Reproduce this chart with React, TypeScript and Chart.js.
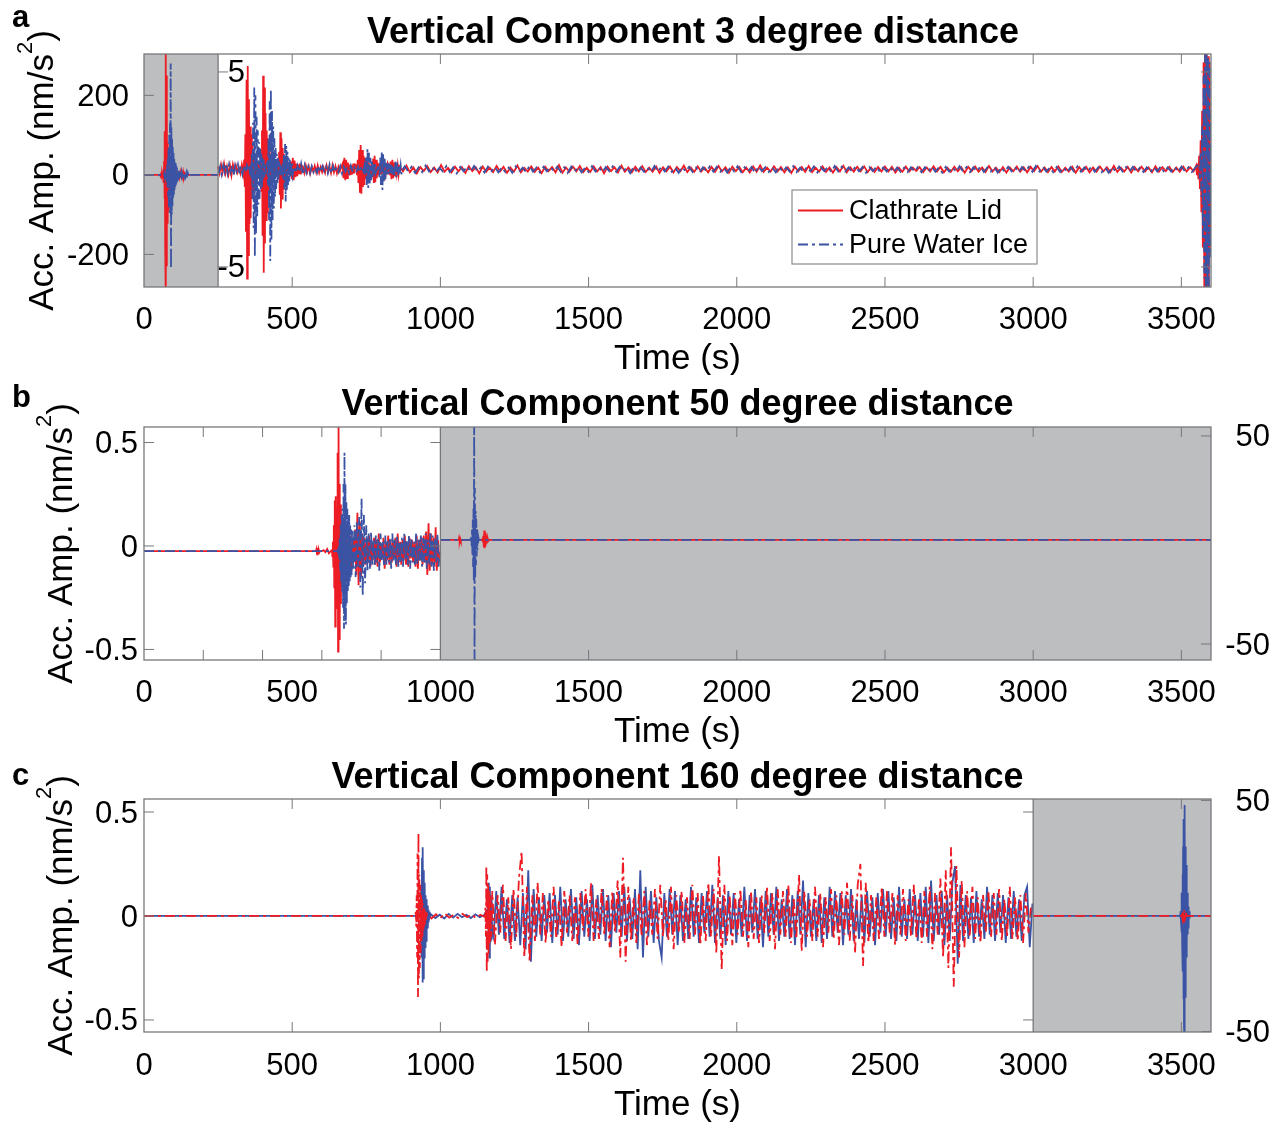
import React, { useEffect, useRef } from "react";
import { Chart, registerables } from "chart.js";
Chart.register(...registerables);

type Seg = { t0: number; dt: number; v: number[] };

// ---------------- text / ticks ----------------
const seriesNames = ["Clathrate Lid", "Pure Water Ice"];
const panelTitles = [
  "Vertical Component 3 degree distance",
  "Vertical Component 50 degree distance",
  "Vertical Component 160 degree distance",
];
const panelLetters = ["a", "b", "c"];
const xTitle = "Time (s)";
const xTickValues = [0, 500, 1000, 1500, 2000, 2500, 3000, 3500];
const aLeftTicks = [-200, 0, 200];
const aInnerTicks = [-5, 5];
const bLeftTicks = [-0.5, 0, 0.5];
const bRightTicks = [-50, 50];
const cLeftTicks = [-0.5, 0, 0.5];
const cRightTicks = [-50, 50];
const aMinorX = [500, 1000, 1500, 2000, 2500, 3000, 3500];
const bMinorXWhite = [200, 400, 600, 800];
const bMinorXGray = [1500, 2000, 2500, 3000, 3500];
const cMinorXWhite = [500, 1000, 1500, 2000, 2500];
const cMinorXGray = [3500];

// ---------------- panel a data (3 degrees) ----------------
// left axis (0-250 s, nm/s^2)
const aRedGray: Seg[] = [
  { t0: 0, dt: 54, v: [0, 0] },
  { t0: 56, dt: 1.2, v: [2,-4,6,-8,5,-3,4,-6,12,-20,35,-60,110,-180,320,-310,250,-230,140,-120,80,-90,60,-55,45,-40,30,-35,25,-20,18,-15,12,-14,10,-8,9,-7,6,-5,6,-4,3,-4,3,-2,2,-2,1,0] },
  { t0: 117, dt: 2.5, v: [4,-6,5,-8,6,-4,7,-5,3,-2,1,0] },
  { t0: 250, dt: 1, v: [0] },
];
const aBlueGray: Seg[] = [
  { t0: 0, dt: 64, v: [0, 0] },
  { t0: 66, dt: 1.2, v: [1,-2,3,-4,5,-6,8,-10,14,-18,25,-30,40,-55,70,-85,100,-95,130,-90,280,-235,120,-100,90,-80,70,-60,55,-50,45,-40,35,-30,30,-25,22,-20,18,-16,14,-12,12,-10,9,-8,7,-6,5,-4,4,-3,2,-2,1,0] },
  { t0: 133, dt: 2.5, v: [3,-5,6,-4,5,-7,4,-3,2,-1,0] },
  { t0: 250, dt: 1, v: [0] },
];
// inner axis (250-3600 s)
const aRedTail = [
  .15,-.1,.2,-.15,.1,-.2,.12,-.08,.18,-.14,
  .1,-.16,.22,-.12,.08,-.15,.14,-.1,.12,-.18,
  .16,-.09,.11,-.2,.15,-.12,.09,-.14,.18,-.1,
  .13,-.17,.1,-.12,.2,-.15,.08,-.11,.16,-.13,
  .1,-.19,.14,-.09,.12,-.15,.22,-.17,.1,-.12,
  .15,-.1,.18,-.14,.09,-.13,.16,-.11,.12,-.2,
  .14,-.09,.11,-.16,.19,-.12,.1,-.15,.13,-.1,
  .17,-.13,.09,-.12,.15,-.18,.11,-.1,.14,-.16,
  .12,-.09,.2,-.14,.1,-.13,.16,-.11,.09,-.15,
  .13,-.12,.18,-.1,.11,-.17,.14,-.09,.12,-.14,
  .1,-.16,.15,-.12,.21,-.13,.09,-.11,.16,-.1,
  .12,-.15,.1,-.18,.14,-.09,.13,-.12,.17,-.14,
  .09,-.11,.15,-.13,.1,-.16,.12,-.1,.19,-.15,
  .11,-.12,.14,-.09,.16,-.14,.1,-.13,.12,-.11,
  .15,-.1,.13,-.16,.09,-.12,.14,-.11,.1,-.08,
  .12,-.14,.1,-.11,.16,-.1,.13,-.15,.09,-.12,
  .14,-.1,.11,-.17,.13,-.09,.15,-.12,.1,-.14,
  .18,-.11,.09,-.13,.12,-.16,.1,-.1,.15,-.12,
  .11,-.15,.13,-.09,.17,-.12,.1,-.14,.12,-.1,
  .16,-.13,.09,-.11,.14,-.17,.12,-.1,.13,-.15,
  .1,-.12,.15,-.1,.11,-.14,.18,-.13,.09,-.11,
  .13,-.16,.12,-.1,.14,-.11,.1,-.15,.16,-.12,
  .11,-.09,.14,-.13,.1,-.12,.15,-.11,.12,-.1,
];
const aBlueTail = [
  -.12,.16,-.1,.14,-.18,.11,-.13,.2,-.1,.12,
  -.15,.09,-.11,.17,-.14,.1,-.2,.13,-.09,.15,
  -.12,.18,-.1,.11,-.16,.14,-.09,.12,-.15,.1,
  -.13,.1,-.17,.15,-.11,.09,-.14,.19,-.12,.1,
  -.16,.13,-.1,.12,-.09,.15,-.13,.11,-.18,.14,
  -.1,.12,-.15,.09,-.13,.17,-.11,.1,-.14,.12,
  -.09,.16,-.12,.14,-.1,.11,-.19,.13,-.15,.1,
  -.12,.09,-.14,.18,-.11,.13,-.1,.15,-.12,.09,
  -.17,.12,-.1,.14,-.13,.1,-.15,.11,-.09,.16,
  -.11,.14,-.12,.09,-.16,.13,-.1,.17,-.14,.11,
  -.1,.12,-.18,.15,-.09,.11,-.13,.1,-.15,.14,
  -.12,.1,-.11,.16,-.14,.09,-.13,.12,-.1,.15,
  -.16,.11,-.09,.13,-.12,.18,-.1,.14,-.11,.1,
  -.13,.15,-.1,.12,-.17,.11,-.09,.14,-.12,.1,
  -.11,.13,-.15,.1,-.12,.09,-.14,.11,-.1,.12,
  -.14,.11,-.1,.15,-.12,.09,-.16,.13,-.11,.1,
  -.12,.17,-.1,.12,-.14,.11,-.09,.15,-.13,.1,
  -.11,.13,-.16,.1,-.12,.14,-.1,.11,-.15,.12,
  -.09,.14,-.12,.18,-.1,.13,-.11,.09,-.14,.12,
  -.13,.1,-.15,.12,-.11,.16,-.12,.1,-.09,.14,
  -.12,.11,-.14,.1,-.17,.12,-.1,.15,-.11,.13,
  -.1,.14,-.12,.09,-.13,.11,-.15,.12,-.1,.16,
  -.14,.1,-.11,.13,-.12,.15,-.1,.11,-.13,.1,
];
const aRedWhite: Seg[] = [
  { t0: 250, dt: 5, v: [.15,-.2,.25,-.15,.3,-.2,.15,-.25,.2,-.3,.25,-.1,.2,-.15,.1,-.2,.25,-.2] },
  { t0: 338, dt: 2, v: [.5,-.9,1.8,-3.2,4.6,-5.6,5.3,-4.4,3.6,-2.8,2.2,-2.5,1.8,-1.5,1.2,-1.3,.9,-.8,.7,-.6,.5,-.6,.4,-.5,.4,-.3,.35,-.3] },
  { t0: 394, dt: 2, v: [.6,-1.1,2,-3.4,4.8,-5.3,4.2,-3.8,2.9,-2.6,2,-2.2,1.6,-1.4,1.1,-1.2,.8,-.7,.6,-.5,.4,-.45,.35,-.3,.3,-.25,.3,-.2,.25] },
  { t0: 452, dt: 2, v: [.3,-.5,.9,-1.3,1.9,-2,1.6,-1.5,1.1,-1,.8,-.9,.6,-.5,.4,-.45,.3,-.3] },
  { t0: 490, dt: 3, v: [.3,-.25,.4,-.5,.6,-.55,.45,-.4,.3,-.35,.25,-.2,.3,-.25,.2] },
  { t0: 536, dt: 5, v: [.15,-.18,.2,-.12,.16,-.2,.12,-.1,.18,-.14,.2,-.16,.12,-.14,.1,-.17,.2,-.12,.14,-.18,.22,-.14,.16,-.2,.13,-.1,.15] },
  { t0: 670, dt: 3, v: [.3,-.45,.6,-.55,.5,-.45,.35,-.3,.25,-.3,.2,-.25,.3,-.2,.25] },
  { t0: 716, dt: 2.5, v: [.2,-.3,.5,-.7,1,-1.2,1.25,-1.25,1,-.9,.7,-.8,.6,-.5,.4,-.45,.35,-.3,.25,-.3,.2] },
  { t0: 768, dt: 2.5, v: [.25,-.4,.55,-.7,.7,-.65,.5,-.45,.35,-.3,.3,-.25,.2,-.25,.3,-.2,.25,-.3,.2,-.15,.25,-.2,.3] },
  { t0: 826, dt: 3, v: [.2,-.3,.4,-.5,.5,-.45,.35,-.3,.25,-.2,.2,-.25] },
  { t0: 862, dt: 11.7, v: aRedTail },
  { t0: 3550, dt: 2.5, v: [.2,-.3,.3,-.5,.7,-1,1.5,-2.2,3,-4,5.5,-6.5,6.2,-6.5,6,-6.5,5.8,-6.3,5.5,-4] },
];
const aBlueWhite: Seg[] = [
  { t0: 252, dt: 5, v: [-.2,.15,-.25,.2,-.15,.3,-.2,.25,-.15,.2,-.3,.2,-.1,.25,-.2,.15,-.25,.2,-.15,.2,-.1] },
  { t0: 356, dt: 2, v: [.2,-.3,.3,-.5,.9,-1.5,2.4,-3,4.2,-4.5,3.8,-3.3,2.7,-2.4,2,-1.8,1.4,-1.5,1.1,-1,.8,-.9,.6,-.5,.5,-.4,.35,-.3] },
  { t0: 416, dt: 2, v: [.4,-.8,1.6,-2.6,3.5,-4.7,4.1,-3.6,3,-2.6,2.2,-2,1.6,-1.4,1.1,-1,.8,-.7,.6,-.5,.4,-.35,.3,-.3,.25,-.3] },
  { t0: 468, dt: 2, v: [.3,-.5,.8,-1,1.3,-1.65,1.2,-1.1,.9,-.8,.6,-.7,.5,-.4,.35,-.3,.3,-.25] },
  { t0: 506, dt: 6, v: [.15,-.18,.2,-.14,.3,-.28,.22,-.18,.15,-.2,.17,-.14,.1,-.16,.2,-.14,.17,-.1,.14,-.2,.25,-.22,.18,-.14,.1,-.14,.17,-.2,.14,-.1,.14,-.17,.2,-.14,.1,-.17,.14,-.14,.17,-.1] },
  { t0: 744, dt: 2.5, v: [.2,-.35,.6,-.8,1.05,-.95,.85,-.8,.6,-.55,.4,-.45,.3,-.25,.3,-.2] },
  { t0: 792, dt: 2.5, v: [.25,-.4,.6,-.8,.9,-1.05,.8,-.7,.55,-.5,.4,-.35,.3,-.25,.3,-.2,.25,-.3,.2,-.25] },
  { t0: 842, dt: 3, v: [.2,-.3,.4,-.4,.35,-.3,.25,-.2,.2,-.25] },
  { t0: 868, dt: 11.7, v: aBlueTail },
  { t0: 3560, dt: 2.5, v: [.3,-.5,.9,-1.4,2.2,-3.5,4.8,-5.6,5.9,-6.5,6,-6.5,5.8,-6.3,5.5,-4.5,3] },
];

// ---------------- panel b data (50 degrees) ----------------
const bRedCoda = [
  .02,-.1,.05,-.12,.04,-.08,.08,-.14,
  .16,-.19,.12,-.15,.06,-.1,.04,-.09,
  .03,-.08,.05,-.1,.02,-.07,.04,-.09,
  .03,-.1,.06,-.08,.01,-.06,.04,-.11,
  .02,-.07,.05,-.09,.03,-.08,.02,-.06,
  .04,-.1,.06,-.08,.02,-.09,.03,-.07,
  .05,-.09,.02,-.1,.04,-.06,.03,-.08,
  .02,-.1,.05,-.11,.03,-.07,.04,-.09,
  .05,-.08,.07,-.14,.11,-.12,.06,-.09,
  .04,-.1,.09,-.12,.03,-.06,-.03,
];
const bBlueCoda = [
  .08,-.12,.1,-.15,.12,-.1,.14,-.2,
  .23,-.24,.15,-.18,.1,-.12,.06,-.11,
  .07,-.09,.03,-.1,.05,-.08,.04,-.12,
  .06,-.07,.02,-.1,.05,-.09,.03,-.08,
  .04,-.11,.06,-.07,.03,-.09,.05,-.1,
  .02,-.08,.04,-.1,.06,-.07,.03,-.09,
  .05,-.11,.04,-.08,.02,-.1,.06,-.09,
  .03,-.07,.05,-.1,.04,-.08,.06,-.11,
  .03,-.09,.07,-.1,.05,-.12,.04,-.08,
  .06,-.1,-.03,
];
const bRedWhite: Seg[] = [
  { t0: 0, dt: 580, v: [-.025, -.025] },
  { t0: 582, dt: 2, v: [-.015,-.04,-.01,-.035,-.02,-.03,-.025] },
  { t0: 600, dt: 6, v: [-.025,-.02,-.03,-.015,-.035,-.025] },
  { t0: 634, dt: 1.6, v: [-.02,-.05,.02,-.1,.1,-.2,.22,-.39,.24,-.3,.18,-.25,.45,-.51,.62,-.45,.3,-.35,.2,-.28,.15,-.2,.12,-.18,.1,-.15,.08,-.14,.06,-.12,.05,-.1] },
  { t0: 688, dt: 4, v: bRedCoda },
];
const bBlueWhite: Seg[] = [
  { t0: 0, dt: 650, v: [-.025, -.025] },
  { t0: 654, dt: 1.6, v: [-.02,-.04,0,-.06,.04,-.12,.1,-.18,.15,-.22,.18,-.3,.3,-.4,.45,-.35,.3,-.38,.22,-.28,.18,-.22,.14,-.2,.15,-.18,.1,-.16,.08,-.14] },
  { t0: 702, dt: 4, v: bBlueCoda },
];
const bRedGray: Seg[] = [
  { t0: 1000, dt: 62, v: [0, 0] },
  { t0: 1063, dt: 2, v: [.8,-.8,.5,-.5,0] },
  { t0: 1076, dt: 64, v: [0, 0] },
  { t0: 1142, dt: 1.5, v: [.5,-1,2,-3.5,4.5,-4,3.5,-3,2.2,-1.8,1.2,-.8,.5,-.3,0] },
  { t0: 1170, dt: 2430, v: [0, 0] },
];
const bBlueGray: Seg[] = [
  { t0: 1000, dt: 100, v: [0, 0] },
  { t0: 1102, dt: 1.2, v: [.5,-1,2,-3,5,-7,10,-13,15,-20,60,-62,25,-18,14,-12,10,-8,6,-5,3,-2,1,0] },
  { t0: 1135, dt: 2465, v: [0, 0] },
];

// ---------------- panel c data (160 degrees) ----------------
const cRedBand = [
  .12,-.14,.1,-.08,.15,-.12,.09,-.16,.13,-.1,
  .18,.31,-.2,.14,-.22,.1,-.12,.16,-.09,.11,
  -.13,.08,-.1,.14,-.11,.07,-.15,.12,-.08,.1,
  -.12,.09,-.14,.11,-.07,.13,-.1,.16,-.12,.08,
  -.11,.13,-.09,.1,-.15,.12,-.08,.17,-.2,.28,
  -.22,.14,-.12,.09,-.13,.11,-.1,.12,-.14,.08,
  -.09,.13,-.11,.15,-.1,.08,-.12,.14,-.16,.1,
  -.08,.12,-.13,.09,-.11,.15,-.09,.11,-.14,.1,
  -.12,.16,-.1,.13,-.18,.29,-.26,.15,-.12,.1,
  -.14,.11,-.09,.13,-.1,.08,-.15,.12,-.11,.09,
  -.13,.1,-.08,.14,-.12,.11,-.16,.13,-.09,.12,
  -.1,.15,-.13,.09,-.11,.2,-.17,.12,-.1,.08,
  -.12,.14,-.1,.11,-.15,.09,-.08,.13,-.11,.1,
  -.14,.12,-.09,.16,-.12,.1,-.18,.15,.25,-.24,
  .16,-.13,.1,-.12,.09,-.11,.14,-.1,.12,-.08,
  .11,-.14,.1,-.09,.13,-.12,.08,-.1,.15,-.11,
  .09,-.13,.12,-.1,.14,-.16,.11,-.09,.18,-.2,
  .22,-.25,.33,-.34,.24,-.2,.17,-.15,.12,-.1,
  .14,-.11,.09,-.13,.1,-.08,.12,-.1,.11,-.09,
  .13,-.12,.08,-.1,.14,-.11,.09,-.12,.1,-.13,
  .11,-.08,.05,
];
const cBlueBand = [
  -.1,.12,-.09,.14,-.11,.08,-.13,.1,-.12,.09,
  -.14,.11,-.16,.22,-.22,.13,-.1,.09,-.12,.1,
  -.08,.11,-.13,.1,-.09,.14,-.12,.08,-.1,.13,
  -.11,.09,-.14,.12,-.1,.08,-.12,.15,-.11,.1,
  -.09,.13,-.12,.1,-.15,.11,-.08,.12,-.1,.14,
  -.12,.09,-.11,.13,-.16,.22,-.2,.14,-.1,.12,
  -.13,.09,-.12,-.2,.11,-.1,.13,-.09,.12,-.14,
  .1,-.12,.08,-.11,.14,-.1,.09,-.13,.11,-.08,
  .12,-.1,.15,-.13,.09,-.11,.1,-.14,.12,-.09,
  .11,-.13,.08,-.1,.14,-.12,.1,-.08,.13,-.11,
  .09,-.15,.12,-.1,.11,-.09,.14,-.12,.08,-.1,
  .13,-.11,.1,-.14,.12,-.09,.17,-.15,.11,-.1,
  .08,-.12,.1,-.13,.09,-.11,.14,-.1,.12,-.08,
  .11,-.14,.1,-.09,.13,-.12,.08,-.11,.1,-.13,
  .12,-.1,.09,-.14,.11,-.08,.13,-.1,.12,-.11,
  .09,-.12,.14,-.1,.08,-.11,.13,-.09,.1,-.12,
  .11,-.1,.14,-.13,.17,-.12,.1,-.09,.12,-.14,
  .1,-.12,.16,.24,-.23,.15,-.12,.1,-.11,.09,
  -.13,.12,-.1,.08,-.11,.14,-.09,.1,-.12,.11,
  -.08,.1,-.13,.09,-.11,.12,-.1,.08,-.12,.1,
  .14,-.15,.06,
];
const cRedWhite: Seg[] = [
  { t0: 0, dt: 915, v: [0, 0] },
  { t0: 917, dt: 1.5, v: [.02,-.05,.1,-.2,.3,-.39,.4,-.3,.2,-.25,.15,-.18,.1,-.12,.08,-.1,.06,-.07,.04,-.05,.03,-.04,.02,-.02] },
  { t0: 955, dt: 15, v: [.01,-.012,.008,-.01,.012,-.008,.006,-.01,.01,-.006,.008,-.01,.006,-.005] },
  { t0: 1152, dt: 1.5, v: [.04,-.1,.24,-.27,.2,-.22,.15,-.18,.12,-.14,.1,-.12,.08,-.1] },
  { t0: 1175, dt: 9, v: cRedBand },
];
const cBlueWhite: Seg[] = [
  { t0: 0, dt: 930, v: [0, 0] },
  { t0: 932, dt: 1.5, v: [.02,-.06,.12,-.2,.28,-.32,.33,-.3,.22,-.2,.16,-.15,.1,-.12,.08,-.07,.05,-.06,.03,-.03,.02,-.01] },
  { t0: 968, dt: 15, v: [.008,-.01,.006,-.012,.01,-.008,.01,-.006,.006,-.01,.008,-.006,.005] },
  { t0: 1158, dt: 1.5, v: [.03,-.06,.1,-.14,.16,-.2,.14,-.12,.1,-.11,.08,-.07] },
  { t0: 1179.5, dt: 9, v: cBlueBand },
];
const cRedGray: Seg[] = [
  { t0: 3000, dt: 500, v: [0, 0] },
  { t0: 3502, dt: 2, v: [.5,-1,2,-3,2.5,-2,1.5,-1,.5,0] },
  { t0: 3530, dt: 70, v: [0, 0] },
];
const cBlueGray: Seg[] = [
  { t0: 3000, dt: 495, v: [0, 0] },
  { t0: 3496, dt: 1, v: [.5,-1,2,-3,5,-7,10,-14,18,-24,30,-36,42,-48,48,-55,40,-35,30,-26,22,-18,15,-12,10,-8,6,-5,4,-3,2,-1,.5,0] },
  { t0: 3535, dt: 65, v: [0, 0] },
];

// ---------------- styling ----------------
const FONT = '"Liberation Sans", Arial, Helvetica, sans-serif';
const RED = "#ED1C24";
const BLUE = "#3A53A4";
const GRAY_FILL = "#BCBEC0";
const AXIS = "#77787B";
const DASHDOT = [10, 4, 3, 4];

const pts = (segs: Seg[]) =>
  segs.flatMap((s) => s.v.map((y, i) => ({ x: s.t0 + i * s.dt, y })));

type SeriesSpec = { name: string; segs: Seg[]; axis: string; color: string; dash: boolean; order: number };

type PanelSpec = {
  idx: number;
  top: number;
  height: number;
  padTop: number;
  xAxisH: number;
  xTickPad: number;
  xTitlePad: number;
  leftMin: number; leftMax: number; leftTicks: number[]; leftPad: number;
  rightMin: number; rightMax: number; rightTicks: number[]; rightShown: boolean; rightPad: number;
  split: number; grayFrom: number; grayTo: number;
  minorX: number[];
  titleX: number; titleY: number; letterY: number; yTitleX: number;
  series: SeriesSpec[];
  legend: boolean;
};

const panels: PanelSpec[] = [
  {
    idx: 0, top: 0, height: 375, padTop: 54, xAxisH: 88, xTickPad: 15, xTitlePad: -2,
    leftMin: -282, leftMax: 304, leftTicks: aLeftTicks, leftPad: 15,
    rightMin: -6.03, rightMax: 5.92, rightTicks: aInnerTicks, rightShown: false, rightPad: 0,
    split: 250, grayFrom: 0, grayTo: 250, minorX: aMinorX,
    titleX: 693, titleY: 43, letterY: 27, yTitleX: 53,
    series: [
      { name: seriesNames[0], segs: aRedGray, axis: "yL", color: RED, dash: false, order: 1 },
      { name: seriesNames[1], segs: aBlueGray, axis: "yL", color: BLUE, dash: true, order: 0 },
      { name: seriesNames[0], segs: aRedWhite, axis: "yR", color: RED, dash: false, order: 1 },
      { name: seriesNames[1], segs: aBlueWhite, axis: "yR", color: BLUE, dash: true, order: 0 },
    ],
    legend: true,
  },
  {
    idx: 1, top: 375, height: 375, padTop: 52, xAxisH: 90, xTickPad: 15, xTitlePad: 0,
    leftMin: -0.551, leftMax: 0.575, leftTicks: bLeftTicks, leftPad: 6,
    rightMin: -57.7, rightMax: 54.3, rightTicks: bRightTicks, rightShown: true, rightPad: -4,
    split: 1000, grayFrom: 1000, grayTo: 3600, minorX: [...bMinorXWhite, ...bMinorXGray],
    titleX: 677.5, titleY: 40, letterY: 32, yTitleX: 72,
    series: [
      { name: seriesNames[0], segs: bRedWhite, axis: "yL", color: RED, dash: false, order: 1 },
      { name: seriesNames[1], segs: bBlueWhite, axis: "yL", color: BLUE, dash: true, order: 0 },
      { name: seriesNames[0], segs: bRedGray, axis: "yR", color: RED, dash: false, order: 1 },
      { name: seriesNames[1], segs: bBlueGray, axis: "yR", color: BLUE, dash: true, order: 0 },
    ],
    legend: false,
  },
  {
    idx: 2, top: 750, height: 373, padTop: 49, xAxisH: 91, xTickPad: 16, xTitlePad: 0,
    leftMin: -0.558, leftMax: 0.5625, leftTicks: cLeftTicks, leftPad: 6,
    rightMin: -50.2, rightMax: 50.6, rightTicks: cRightTicks, rightShown: true, rightPad: 1,
    split: 3000, grayFrom: 3000, grayTo: 3600, minorX: [...cMinorXWhite, ...cMinorXGray],
    titleX: 677.5, titleY: 38, letterY: 35, yTitleX: 72,
    series: [
      { name: seriesNames[1], segs: cBlueWhite, axis: "yL", color: BLUE, dash: false, order: 1 },
      { name: seriesNames[0], segs: cRedWhite, axis: "yL", color: RED, dash: true, order: 0 },
      { name: seriesNames[1], segs: cBlueGray, axis: "yR", color: BLUE, dash: false, order: 1 },
      { name: seriesNames[0], segs: cRedGray, axis: "yR", color: RED, dash: true, order: 0 },
    ],
    legend: false,
  },
];

function drawYTitle(ctx: CanvasRenderingContext2D, bx: number, cy: number) {
  const main = "Acc. Amp. (nm/s";
  const sup = "2";
  const close = ")";
  ctx.save();
  ctx.translate(bx, cy);
  ctx.rotate(-Math.PI / 2);
  ctx.fillStyle = "#000";
  ctx.textBaseline = "alphabetic";
  ctx.textAlign = "left";
  ctx.font = `35px ${FONT}`;
  const wMain = ctx.measureText(main).width;
  const wClose = ctx.measureText(close).width;
  ctx.font = `22px ${FONT}`;
  const wSup = ctx.measureText(sup).width;
  const x0 = -(wMain + wSup + wClose) / 2;
  ctx.font = `35px ${FONT}`;
  ctx.fillText(main, x0, 0);
  ctx.font = `22px ${FONT}`;
  ctx.fillText(sup, x0 + wMain, -21);
  ctx.font = `35px ${FONT}`;
  ctx.fillText(close, x0 + wMain + wSup, 0);
  ctx.restore();
}

function line(ctx: CanvasRenderingContext2D, x1: number, y1: number, x2: number, y2: number) {
  ctx.beginPath();
  ctx.moveTo(x1, y1);
  ctx.lineTo(x2, y2);
  ctx.stroke();
}

function buildConfig(spec: PanelSpec): any {
  const datasets = spec.series.map((s) => ({
    label: s.name,
    data: pts(s.segs),
    yAxisID: s.axis,
    borderColor: s.color,
    backgroundColor: s.color,
    borderWidth: 1.8,
    borderDash: s.dash ? DASHDOT : [],
    pointRadius: 0,
    fill: false,
    tension: 0,
    order: s.order,
  }));

  const decor = {
    id: "decor" + spec.idx,
    beforeDatasetsDraw(chart: any) {
      const { ctx, chartArea: ca, scales } = chart;
      const x = scales.x;
      const g0 = x.getPixelForValue(spec.grayFrom);
      const g1 = x.getPixelForValue(spec.grayTo);
      ctx.save();
      ctx.fillStyle = GRAY_FILL;
      ctx.fillRect(g0, ca.top, g1 - g0, ca.bottom - ca.top);
      ctx.restore();
    },
    afterDatasetsDraw(chart: any) {
      const { ctx, chartArea: ca, scales } = chart;
      const x = scales.x, yL = scales.yL, yR = scales.yR;
      const sx = x.getPixelForValue(spec.split);
      const TL = 10;
      ctx.save();
      ctx.strokeStyle = AXIS;
      ctx.lineWidth = 1.3;
      ctx.strokeRect(ca.left, ca.top, ca.right - ca.left, ca.bottom - ca.top);
      line(ctx, sx, ca.top, sx, ca.bottom);
      ctx.lineWidth = 1;
      for (const v of spec.minorX) {
        const px = x.getPixelForValue(v);
        line(ctx, px, ca.top, px, ca.top + TL);
        line(ctx, px, ca.bottom, px, ca.bottom - TL);
      }
      for (const v of spec.leftTicks) {
        const py = yL.getPixelForValue(v);
        line(ctx, ca.left, py, ca.left + TL, py);
        if (spec.idx > 0) line(ctx, sx, py, sx - TL, py);
      }
      for (const v of spec.rightTicks) {
        const py = yR.getPixelForValue(v);
        line(ctx, ca.right, py, ca.right - TL, py);
        if (spec.idx === 0) line(ctx, sx, py, sx + TL, py);
      }
      if (spec.idx === 0) {
        ctx.fillStyle = "#000";
        ctx.font = `31px ${FONT}`;
        ctx.textAlign = "right";
        ctx.textBaseline = "middle";
        for (const v of spec.rightTicks) {
          ctx.fillText(String(v), sx + 27, yR.getPixelForValue(v) + 2);
        }
      }
      if (spec.legend) {
        const bx = 792, by = 190, bw = 245, bh = 74;
        ctx.fillStyle = "#fff";
        ctx.fillRect(bx, by, bw, bh);
        ctx.strokeStyle = "#8C8C8C";
        ctx.lineWidth = 1.2;
        ctx.strokeRect(bx, by, bw, bh);
        const rows = [
          { name: seriesNames[0], color: RED, dash: false, y: 210.5 },
          { name: seriesNames[1], color: BLUE, dash: true, y: 244.5 },
        ];
        for (const r of rows) {
          ctx.strokeStyle = r.color;
          ctx.lineWidth = 2;
          ctx.setLineDash(r.dash ? DASHDOT : []);
          line(ctx, 798, r.y, 843, r.y);
          ctx.setLineDash([]);
          ctx.fillStyle = "#000";
          ctx.font = `27px ${FONT}`;
          ctx.textAlign = "left";
          ctx.textBaseline = "middle";
          ctx.fillText(r.name, 849, r.y + 1);
        }
      }
      ctx.restore();
    },
    afterDraw(chart: any) {
      const { ctx, chartArea: ca } = chart;
      ctx.save();
      ctx.fillStyle = "#000";
      ctx.font = `bold 36px ${FONT}`;
      ctx.textAlign = "center";
      ctx.textBaseline = "alphabetic";
      ctx.fillText(panelTitles[spec.idx], spec.titleX, spec.titleY);
      ctx.font = `bold 31px ${FONT}`;
      ctx.textAlign = "left";
      ctx.fillText(panelLetters[spec.idx], 12, spec.letterY);
      ctx.restore();
      drawYTitle(ctx, spec.yTitleX, (ca.top + ca.bottom) / 2);
    },
  };

  const tickFont = { family: FONT, size: 31 };
  return {
    type: "line",
    data: { datasets },
    options: {
      responsive: false,
      animation: false,
      events: [],
      layout: { padding: { left: 0, right: 0, top: spec.padTop, bottom: 0 } },
      plugins: { legend: { display: false }, title: { display: false }, tooltip: { enabled: false } },
      scales: {
        x: {
          type: "linear",
          position: "bottom",
          min: 0,
          max: 3600,
          afterFit: (s: any) => { s.height = spec.xAxisH; },
          afterBuildTicks: (s: any) => { s.ticks = xTickValues.map((v) => ({ value: v })); },
          grid: { display: false, drawTicks: false },
          border: { display: false },
          ticks: { autoSkip: false, maxRotation: 0, padding: spec.xTickPad, font: tickFont, color: "#000", callback: (v: any) => String(v) },
          title: { display: true, text: xTitle, color: "#000", font: { family: FONT, size: 35, lineHeight: 1 }, padding: { top: 0, bottom: spec.xTitlePad } },
        },
        yL: {
          type: "linear",
          position: "left",
          min: spec.leftMin,
          max: spec.leftMax,
          afterFit: (s: any) => { s.width = 144; },
          afterBuildTicks: (s: any) => { s.ticks = spec.leftTicks.map((v) => ({ value: v })); },
          grid: { display: false, drawTicks: false },
          border: { display: false },
          ticks: { padding: spec.leftPad, labelOffset: 2, font: tickFont, color: "#000", callback: (v: any) => String(v) },
        },
        yR: {
          type: "linear",
          position: "right",
          display: spec.rightShown,
          min: spec.rightMin,
          max: spec.rightMax,
          afterFit: (s: any) => { s.width = 59; },
          afterBuildTicks: (s: any) => { s.ticks = spec.rightTicks.map((v) => ({ value: v })); },
          grid: { display: false, drawTicks: false },
          border: { display: false },
          ticks: { padding: spec.rightPad, labelOffset: 2, crossAlign: "far", font: tickFont, color: "#000", callback: (v: any) => String(v) },
        },
      },
    },
    plugins: [decor],
  };
}

function Panel({ spec }: { spec: PanelSpec }) {
  const ref = useRef<HTMLCanvasElement>(null);
  useEffect(() => {
    const chart = new Chart(ref.current as HTMLCanvasElement, buildConfig(spec));
    return () => chart.destroy();
  }, [spec]);
  return (
    <canvas
      ref={ref}
      width={1270}
      height={spec.height}
      style={{ position: "absolute", left: 0, top: spec.top, width: 1270, height: spec.height, display: "block" }}
    />
  );
}

export default function App() {
  return (
    <div style={{ position: "fixed", left: 0, top: 0, width: 1270, height: 1123, background: "#fff", overflow: "hidden" }}>
      {panels.map((p) => (
        <Panel key={p.idx} spec={p} />
      ))}
    </div>
  );
}
